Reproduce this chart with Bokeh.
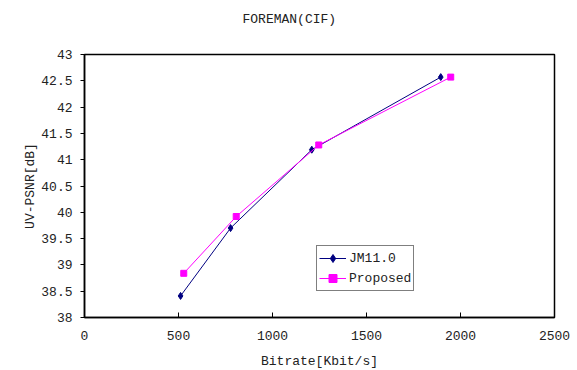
from bokeh.plotting import figure
from bokeh.models import Range1d, FixedTicker, Legend, LegendItem, Title
from bokeh.embed import file_html
from bokeh.resources import INLINE

# data
jm_x = [511, 777, 1209, 1895]
jm_y = [38.41, 39.70, 41.19, 42.57]
pr_x = [528, 807, 1246, 1948]
pr_y = [38.84, 39.92, 41.28, 42.57]
x_ticks = [0, 500, 1000, 1500, 2000, 2500]
y_ticks = [38, 38.5, 39, 39.5, 40, 40.5, 41, 41.5, 42, 42.5, 43]
y_tick_labels = ["38", "38.5", "39", "39.5", "40", "40.5", "41", "41.5", "42", "42.5", "43"]
title_text = "FOREMAN(CIF)"

FONT = "Liberation Mono"

p = figure(width=577, height=370, output_backend="svg", toolbar_location=None,
           x_range=Range1d(0, 2500), y_range=Range1d(38, 43),
           frame_width=470, frame_height=263,
           min_border_left=84, min_border_right=23, min_border_bottom=53, min_border_top=54)

p.title.text = title_text
p.title.align = "left"
p.title.text_font = FONT
p.title.text_font_size = "13px"
p.title.text_font_style = "normal"
p.title.text_color = "#222222"
p.title.offset = 158
p.title.standoff = 18

# empty spacer between title and frame
spacer = Title(text=" ", text_font=FONT, text_font_size="13px", standoff=2)
p.add_layout(spacer, "above")

p.xgrid.visible = False
p.ygrid.visible = False
p.outline_line_color = "black"
p.outline_line_width = 1.5

p.xaxis.ticker = FixedTicker(ticks=x_ticks)
p.yaxis.ticker = FixedTicker(ticks=y_ticks)
p.yaxis.major_label_overrides = {t: l for t, l in zip(y_ticks, y_tick_labels)}

for ax in (p.xaxis[0], p.yaxis[0]):
    ax.axis_line_color = "black"
    ax.axis_line_width = 1.5
    ax.major_tick_line_color = "black"
    ax.minor_tick_line_color = None
    ax.major_label_text_font = FONT
    ax.major_label_text_font_size = "13px"
    ax.major_label_text_color = "#222222"
    ax.axis_label_text_font = FONT
    ax.axis_label_text_font_size = "13px"
    ax.axis_label_text_font_style = "normal"
    ax.axis_label_text_color = "#222222"

p.xaxis.major_tick_in = 5
p.xaxis.major_tick_out = 0
p.xaxis.major_label_standoff = 13
p.xaxis.axis_label = "Bitrate[Kbit/s]"
p.xaxis.axis_label_standoff = 11

p.yaxis.major_tick_in = 0
p.yaxis.major_tick_out = 4
p.yaxis.major_label_standoff = 8
p.yaxis.axis_label = "UV-PSNR[dB]"
p.yaxis.axis_label_standoff = 0

l1 = p.line(jm_x, jm_y, line_color="#000080", line_width=1)
m1 = p.scatter(jm_x, jm_y, marker="diamond", size=7, fill_color="#000080", line_color="#000080")
l2 = p.line(pr_x, pr_y, line_color="#FF00FF", line_width=1)
m2 = p.scatter(pr_x, pr_y, marker="square", size=6, fill_color="#FF00FF", line_color="#FF00FF")

legend = Legend(items=[LegendItem(label="JM11.0", renderers=[l1, m1]),
                       LegendItem(label="Proposed", renderers=[l2, m2])],
                location=(232, 26))
legend.border_line_color = "black"
legend.border_line_width = 1
legend.background_fill_color = "white"
legend.label_text_font = FONT
legend.label_text_font_size = "13px"
legend.label_text_color = "#222222"
legend.glyph_width = 27
legend.glyph_height = 20
legend.label_height = 20
legend.label_standoff = 3
legend.spacing = 0
legend.padding = 2
legend.margin = 0
p.add_layout(legend)

open("out.html", "w").write(file_html(p, INLINE))
